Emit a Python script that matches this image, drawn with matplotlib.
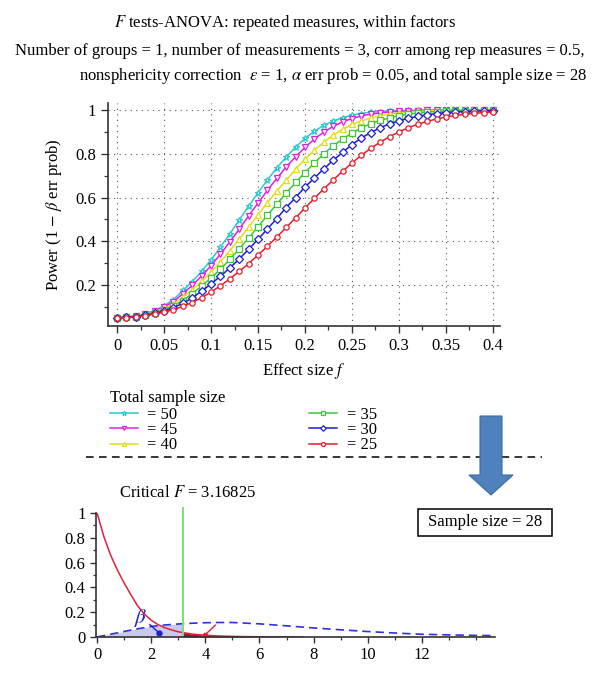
import numpy as np
import matplotlib
matplotlib.use("Agg")
import matplotlib.pyplot as plt
from matplotlib.patches import FancyArrow, Rectangle
from matplotlib.ticker import MultipleLocator, FuncFormatter

plt.rcParams['font.family'] = ['Liberation Serif', 'DejaVu Serif']
plt.rcParams['mathtext.fontset'] = 'stix'

# effect size f on the x axis of the power plot
effect_size = [0.00, 0.01, 0.02, 0.03, 0.04, 0.05, 0.06, 0.07, 0.08, 0.09,
               0.10, 0.11, 0.12, 0.13, 0.14, 0.15, 0.16, 0.17, 0.18, 0.19,
               0.20, 0.21, 0.22, 0.23, 0.24, 0.25, 0.26, 0.27, 0.28, 0.29,
               0.30, 0.31, 0.32, 0.33, 0.34, 0.35, 0.36, 0.37, 0.38, 0.39, 0.40]

# power curves, one per total sample size
power_50 = [0.050, 0.053, 0.060, 0.068, 0.083, 0.105, 0.133, 0.175, 0.215, 0.262,
            0.315, 0.373, 0.434, 0.497, 0.560, 0.622, 0.680, 0.735, 0.785, 0.830,
            0.870, 0.903, 0.930, 0.950, 0.965, 0.976, 0.984, 0.990, 0.993, 0.996,
            0.997, 0.998, 0.999, 0.999, 0.999, 0.999, 0.999, 0.999, 0.999, 0.999, 0.999]
power_45 = [0.050, 0.053, 0.059, 0.067, 0.080, 0.099, 0.124, 0.160, 0.198, 0.241,
            0.288, 0.341, 0.397, 0.455, 0.516, 0.574, 0.633, 0.687, 0.740, 0.786,
            0.829, 0.867, 0.899, 0.925, 0.946, 0.961, 0.973, 0.981, 0.987, 0.991,
            0.994, 0.996, 0.997, 0.998, 0.999, 0.999, 0.999, 0.999, 0.999, 0.999, 0.999]
power_40 = [0.050, 0.052, 0.058, 0.065, 0.077, 0.093, 0.114, 0.143, 0.178, 0.217,
            0.258, 0.306, 0.357, 0.409, 0.465, 0.521, 0.576, 0.629, 0.679, 0.729,
            0.776, 0.816, 0.853, 0.885, 0.912, 0.934, 0.950, 0.963, 0.974, 0.981,
            0.987, 0.991, 0.994, 0.996, 0.997, 0.998, 0.999, 0.999, 0.999, 0.999, 0.999]
power_35 = [0.050, 0.052, 0.056, 0.063, 0.074, 0.087, 0.105, 0.129, 0.160, 0.195,
            0.232, 0.272, 0.317, 0.366, 0.414, 0.466, 0.519, 0.570, 0.620, 0.669,
            0.714, 0.758, 0.800, 0.836, 0.867, 0.895, 0.918, 0.938, 0.953, 0.964,
            0.974, 0.981, 0.986, 0.990, 0.993, 0.995, 0.996, 0.997, 0.998, 0.998, 0.999]
power_30 = [0.050, 0.052, 0.056, 0.062, 0.070, 0.081, 0.097, 0.116, 0.141, 0.172,
            0.205, 0.240, 0.278, 0.319, 0.363, 0.409, 0.456, 0.504, 0.554, 0.600,
            0.648, 0.689, 0.731, 0.770, 0.806, 0.842, 0.872, 0.897, 0.919, 0.937,
            0.950, 0.962, 0.971, 0.978, 0.984, 0.988, 0.991, 0.993, 0.995, 0.996, 0.997]
power_25 = [0.050, 0.051, 0.055, 0.060, 0.067, 0.076, 0.088, 0.102, 0.120, 0.142,
            0.168, 0.196, 0.228, 0.262, 0.298, 0.337, 0.377, 0.419, 0.463, 0.507,
            0.552, 0.596, 0.639, 0.680, 0.720, 0.758, 0.793, 0.825, 0.853, 0.878,
            0.900, 0.919, 0.935, 0.948, 0.959, 0.968, 0.975, 0.980, 0.985, 0.988, 0.991]

sample_labels = ['= 50', '= 45', '= 40', '= 35', '= 30', '= 25']
series = [power_50, power_45, power_40, power_35, power_30, power_25]
colors = ['#2ec8d0', '#e020e0', '#e2dc1e', '#3cc83c', '#1e1ed2', '#e41e2c']
markers = ['*', 'v', '^', 's', 'D', 'o']

# distributions in the lower panel
f_x = [0, 0.25, 0.5, 0.75, 1.0, 1.25, 1.5, 1.75, 2.0, 2.25, 2.5, 2.75, 3.0,
       3.5, 4.0, 4.5, 5.0, 5.5, 6.0, 6.5, 7.0, 7.6]
central_f = [1.0, 0.81, 0.66, 0.54, 0.435, 0.34, 0.25, 0.185, 0.135, 0.10, 0.075, 0.057, 0.042,
             0.024, 0.014, 0.008, 0.005, 0.003, 0.002, 0.001, 0.0007, 0.0004]
nc_x = [0, 0.5, 1, 1.5, 2, 2.5, 3, 3.5, 4, 4.5, 5, 6, 7, 8, 9, 10, 11, 12, 13, 14, 14.7]
noncentral_f = [0.0, 0.022, 0.045, 0.066, 0.085, 0.097, 0.105, 0.111, 0.115, 0.117, 0.117,
                0.106, 0.090, 0.073, 0.058, 0.044, 0.032, 0.022, 0.017, 0.013, 0.011]
critical_f = 3.16825

fig = plt.figure(figsize=(6.0, 6.86), dpi=100)

# header text
fig.text(0.475, 1 - 23 / 686, '$F$ tests-ANOVA: repeated measures, within factors',
         ha='center', va='center', fontsize=12)
fig.text(0.5, 1 - 51 / 686,
         'Number of groups = 1, number of measurements = 3, corr among rep measures = 0.5,',
         ha='center', va='center', fontsize=12)
fig.text(587 / 600, 1 - 76 / 686,
         'nonsphericity correction  $\\epsilon$ = 1, $\\alpha$ err prob = 0.05, and total sample size = 28',
         ha='right', va='center', fontsize=12)

# power plot
ax = fig.add_axes([108 / 600, 1 - 326 / 686, 392 / 600, 223 / 686])
for vals, c, m, lab in zip(series, colors, markers, sample_labels):
    ax.plot(effect_size, vals, color=c, lw=1.1, marker=m, ms=4.8 if m == '*' else 3.8,
            mfc='white', mec=c, mew=0.9, label=lab, clip_on=False)

ax.set_xlim(-0.0096, 0.4075)
ax.set_ylim(0.0126, 1.032)
ax.set_xticks([0, 0.05, 0.1, 0.15, 0.2, 0.25, 0.3, 0.35, 0.4])
ax.set_yticks([0.2, 0.4, 0.6, 0.8, 1.0])
ax.xaxis.set_minor_locator(MultipleLocator(0.025))
ax.yaxis.set_minor_locator(MultipleLocator(0.1))
ax.xaxis.set_major_formatter(FuncFormatter(lambda v, p: ('%g' % round(v, 3))))
ax.yaxis.set_major_formatter(FuncFormatter(lambda v, p: ('%g' % round(v, 2))))
ax.grid(True, which='major', color='#555555', linestyle=(0, (1, 4)), lw=0.8)
for s in ['top', 'right']:
    ax.spines[s].set_visible(False)
for s in ['left', 'bottom']:
    ax.spines[s].set_linewidth(1.2)
    ax.spines[s].set_color('#333333')
ax.tick_params(which='major', length=5, width=1, labelsize=12, color='#333333')
ax.tick_params(which='minor', length=3, width=0.9, color='#333333')
ax.set_xlabel('Effect size $f$', fontsize=12, labelpad=5)
ax.set_ylabel('Power (1 $-$ $\\beta$ err prob)', fontsize=12, labelpad=8)

handles, labels = ax.get_legend_handles_labels()
leg = fig.legend(handles, labels, loc='upper left', bbox_to_anchor=(98 / 600, 1 - 378 / 686),
                 ncol=2, frameon=False, fontsize=12, title='Total sample size',
                 title_fontsize=12, handlelength=1.7, handletextpad=0.55,
                 columnspacing=7.9, labelspacing=-0.05, borderpad=0.2, markerscale=0.75)
leg._legend_box.align = 'left'
leg._legend_box.sep = 1

# distribution plot
bx = fig.add_axes([96 / 600, 1 - 637 / 686, 399 / 600, 124 / 686])
bx.patch.set_alpha(0)
fx = np.array(f_x)
cf = np.array(central_f)
nx = np.array(nc_x)
nf = np.array(noncentral_f)

sel = nx <= critical_f
bx_fill_x = np.append(nx[sel], critical_f)
bx_fill_y = np.append(nf[sel], np.interp(critical_f, nx, nf))
bx.fill_between(bx_fill_x, 0, bx_fill_y, color='#c9c9ee', lw=0)
sel = fx >= critical_f
a_x = np.insert(fx[sel], 0, critical_f)
a_y = np.insert(cf[sel], 0, np.interp(critical_f, fx, cf))
bx.fill_between(a_x, 0, a_y, color='#9e1030', lw=0)

bx.plot(nx, nf, color='#3030dd', lw=1.2, linestyle=(0, (5, 3)))
bx.plot(fx, cf, color='#e0203a', lw=1.1)
bx.plot([critical_f, critical_f], [0, 1.04], color='#7ae07a', lw=1.4, clip_on=False)

bx.plot([1.95, 2.28], [0.10, 0.035], color='#2020cc', lw=1.0)
bx.plot([2.28], [0.035], 'o', color='#2020cc', ms=3.5)
bx.text(1.6, 0.155, '$\\beta$', color='#2020cc', fontsize=15, ha='center', va='center')
bx.plot([4.37, 3.97], [0.095, 0.014], color='#e0203a', lw=1.0)
bx.plot([3.97], [0.014], 'o', color='#e0203a', ms=3)

bx.set_xlim(-0.04, 14.7)
bx.set_ylim(0, 1.0)
bx.set_xticks([0, 2, 4, 6, 8, 10, 12])
bx.set_yticks([0, 0.2, 0.4, 0.6, 0.8, 1.0])
bx.xaxis.set_minor_locator(MultipleLocator(1))
bx.yaxis.set_minor_locator(MultipleLocator(0.1))
bx.yaxis.set_major_formatter(FuncFormatter(lambda v, p: ('%g' % round(v, 2))))
for s in ['top', 'right']:
    bx.spines[s].set_visible(False)
for s in ['left', 'bottom']:
    bx.spines[s].set_linewidth(1.2)
    bx.spines[s].set_color('#333333')
bx.tick_params(which='major', length=4, width=1, labelsize=12, color='#333333')
bx.tick_params(which='minor', length=2.5, width=0.9, color='#333333')

# overlay in pixel units for the separator, arrow and box
ov = fig.add_axes([0, 0, 1, 1], zorder=5)
ov.set_xlim(0, 600)
ov.set_ylim(686, 0)
ov.axis('off')
ov.plot([86, 542], [457, 457], color='black', lw=1.1, linestyle=(0, (5, 3.5)), zorder=1)
ov.add_patch(FancyArrow(491, 416, 0, 79, width=22, head_width=44, head_length=20,
                        length_includes_head=True, fc='#4f81bd', ec='#3d6b9e', lw=0.8,
                        zorder=3))
ov.add_patch(Rectangle((418, 509), 134, 27, fc='white', ec='black', lw=1.1))
ov.text(485, 522.5, 'Sample size = 28', ha='center', va='center', fontsize=12)
ov.text(188, 493, 'Critical $F$ = 3.16825', ha='center', va='center', fontsize=12)

fig.savefig('out.png', dpi=100)
